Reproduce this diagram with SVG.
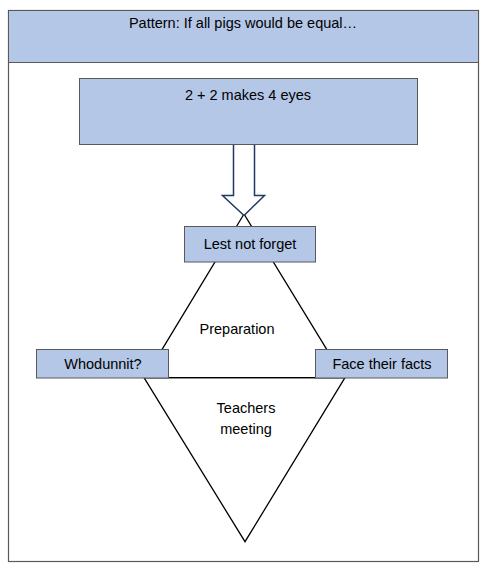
<svg xmlns="http://www.w3.org/2000/svg" width="491" height="570" viewBox="0 0 491 570">
<style>
.box{fill:#B4C7E7;stroke:#595959;stroke-width:1}
.frame{fill:#FFFFFF;stroke:#595959;stroke-width:1.2}
.line{fill:none;stroke:#000000;stroke-width:1.3}
.arrow{fill:#FFFFFF;stroke:#1F3864;stroke-width:1.5}
text{font-family:"Liberation Sans",Arial,sans-serif;font-size:14.5px;fill:#000000;text-anchor:middle}
</style>
<rect width="491" height="570" fill="#FFFFFF"/>
<g id="frame">
<rect class="frame" x="8.5" y="10.5" width="470" height="551"/>
</g>
<g id="header">
<rect class="box" x="8.5" y="10.5" width="470" height="52"/>
<text x="243" y="28">Pattern: If all pigs would be equal…</text>
</g>
<g id="connectors">
<polygon class="line" points="244,214 145,377.7 344,377.7"/>
<polygon class="line" points="144,377.7 345,377.7 245,541.7"/>
<polygon class="arrow" points="233.5,144 254.5,144 254.5,195.5 264.5,195.5 244,215.5 222.5,195.5 233.5,195.5"/>
</g>
<g id="eyes">
<rect class="box" x="79.5" y="78.5" width="338" height="66"/>
<text x="248" y="100">2 + 2 makes 4 eyes</text>
</g>
<g id="lest">
<rect class="box" x="184.5" y="226.5" width="131" height="35.5"/>
<text x="250" y="248.5">Lest not forget</text>
</g>
<g id="preparation">
<text x="237" y="333.5">Preparation</text>
</g>
<g id="whodunnit">
<rect class="box" x="36.5" y="349.5" width="132" height="28.5"/>
<text x="103" y="369">Whodunnit?</text>
</g>
<g id="facts">
<rect class="box" x="315.5" y="349.5" width="132" height="28.5"/>
<text x="382" y="369">Face their facts</text>
</g>
<g id="teachers">
<text x="246" y="413">Teachers</text>
<text x="246" y="434">meeting</text>
</g>
</svg>
